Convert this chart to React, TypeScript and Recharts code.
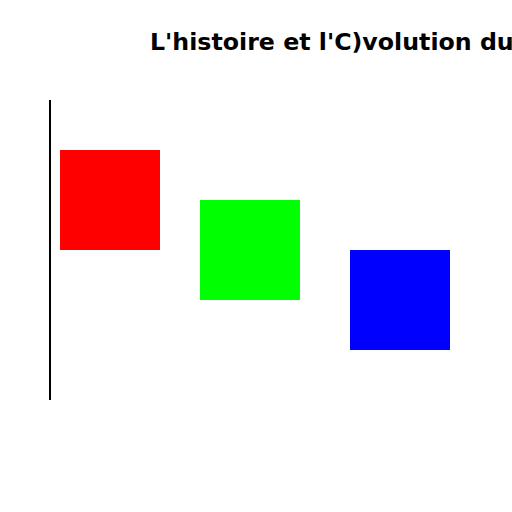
import React from "react";
import { ComposedChart, XAxis, YAxis, ReferenceArea, Scatter } from "recharts";

const title = "L'histoire et l'C)volution du";
const labels = ["A", "B", "C"];
const xStart = [10, 150, 300];
const xEnd = [110, 250, 400];
const yLow = [150, 100, 50];
const yHigh = [250, 200, 150];
const colors = ["#ff0000", "#00ff00", "#0000ff"];

const data = labels.map((l, i) => ({ name: l, x: xStart[i], y: yLow[i] }));

export default function App() {
  return (
    <div style={{ position: "absolute", left: 0, top: 0, width: 512, height: 512, background: "#fff" }}>
      <ComposedChart
        width={512}
        height={512}
        data={data}
        margin={{ top: 100, right: 12, bottom: 112, left: 49 }}
      >
        <XAxis type="number" dataKey="x" domain={[0, 450]} hide />
        <YAxis
          type="number"
          dataKey="y"
          domain={[0, 300]}
          width={1}
          tick={false}
          tickLine={false}
          axisLine={{ stroke: "#000", strokeWidth: 2 }}
        />
        <Scatter dataKey="y" isAnimationActive={false} shape={() => <g />} />
        {labels.map((l, i) => (
          <ReferenceArea
            key={l}
            x1={xStart[i]}
            x2={xEnd[i]}
            y1={yLow[i]}
            y2={yHigh[i]}
            fill={colors[i]}
            fillOpacity={1}
            stroke="none"
            ifOverflow="visible"
          />
        ))}
      </ComposedChart>
      <svg width={512} height={512} style={{ position: "absolute", left: 0, top: 0, pointerEvents: "none" }}>
        <text x={150} y={50} fontFamily="DejaVu Sans" fontWeight="bold" fontSize={23.7} fill="#000">
          {title}
        </text>
      </svg>
    </div>
  );
}
